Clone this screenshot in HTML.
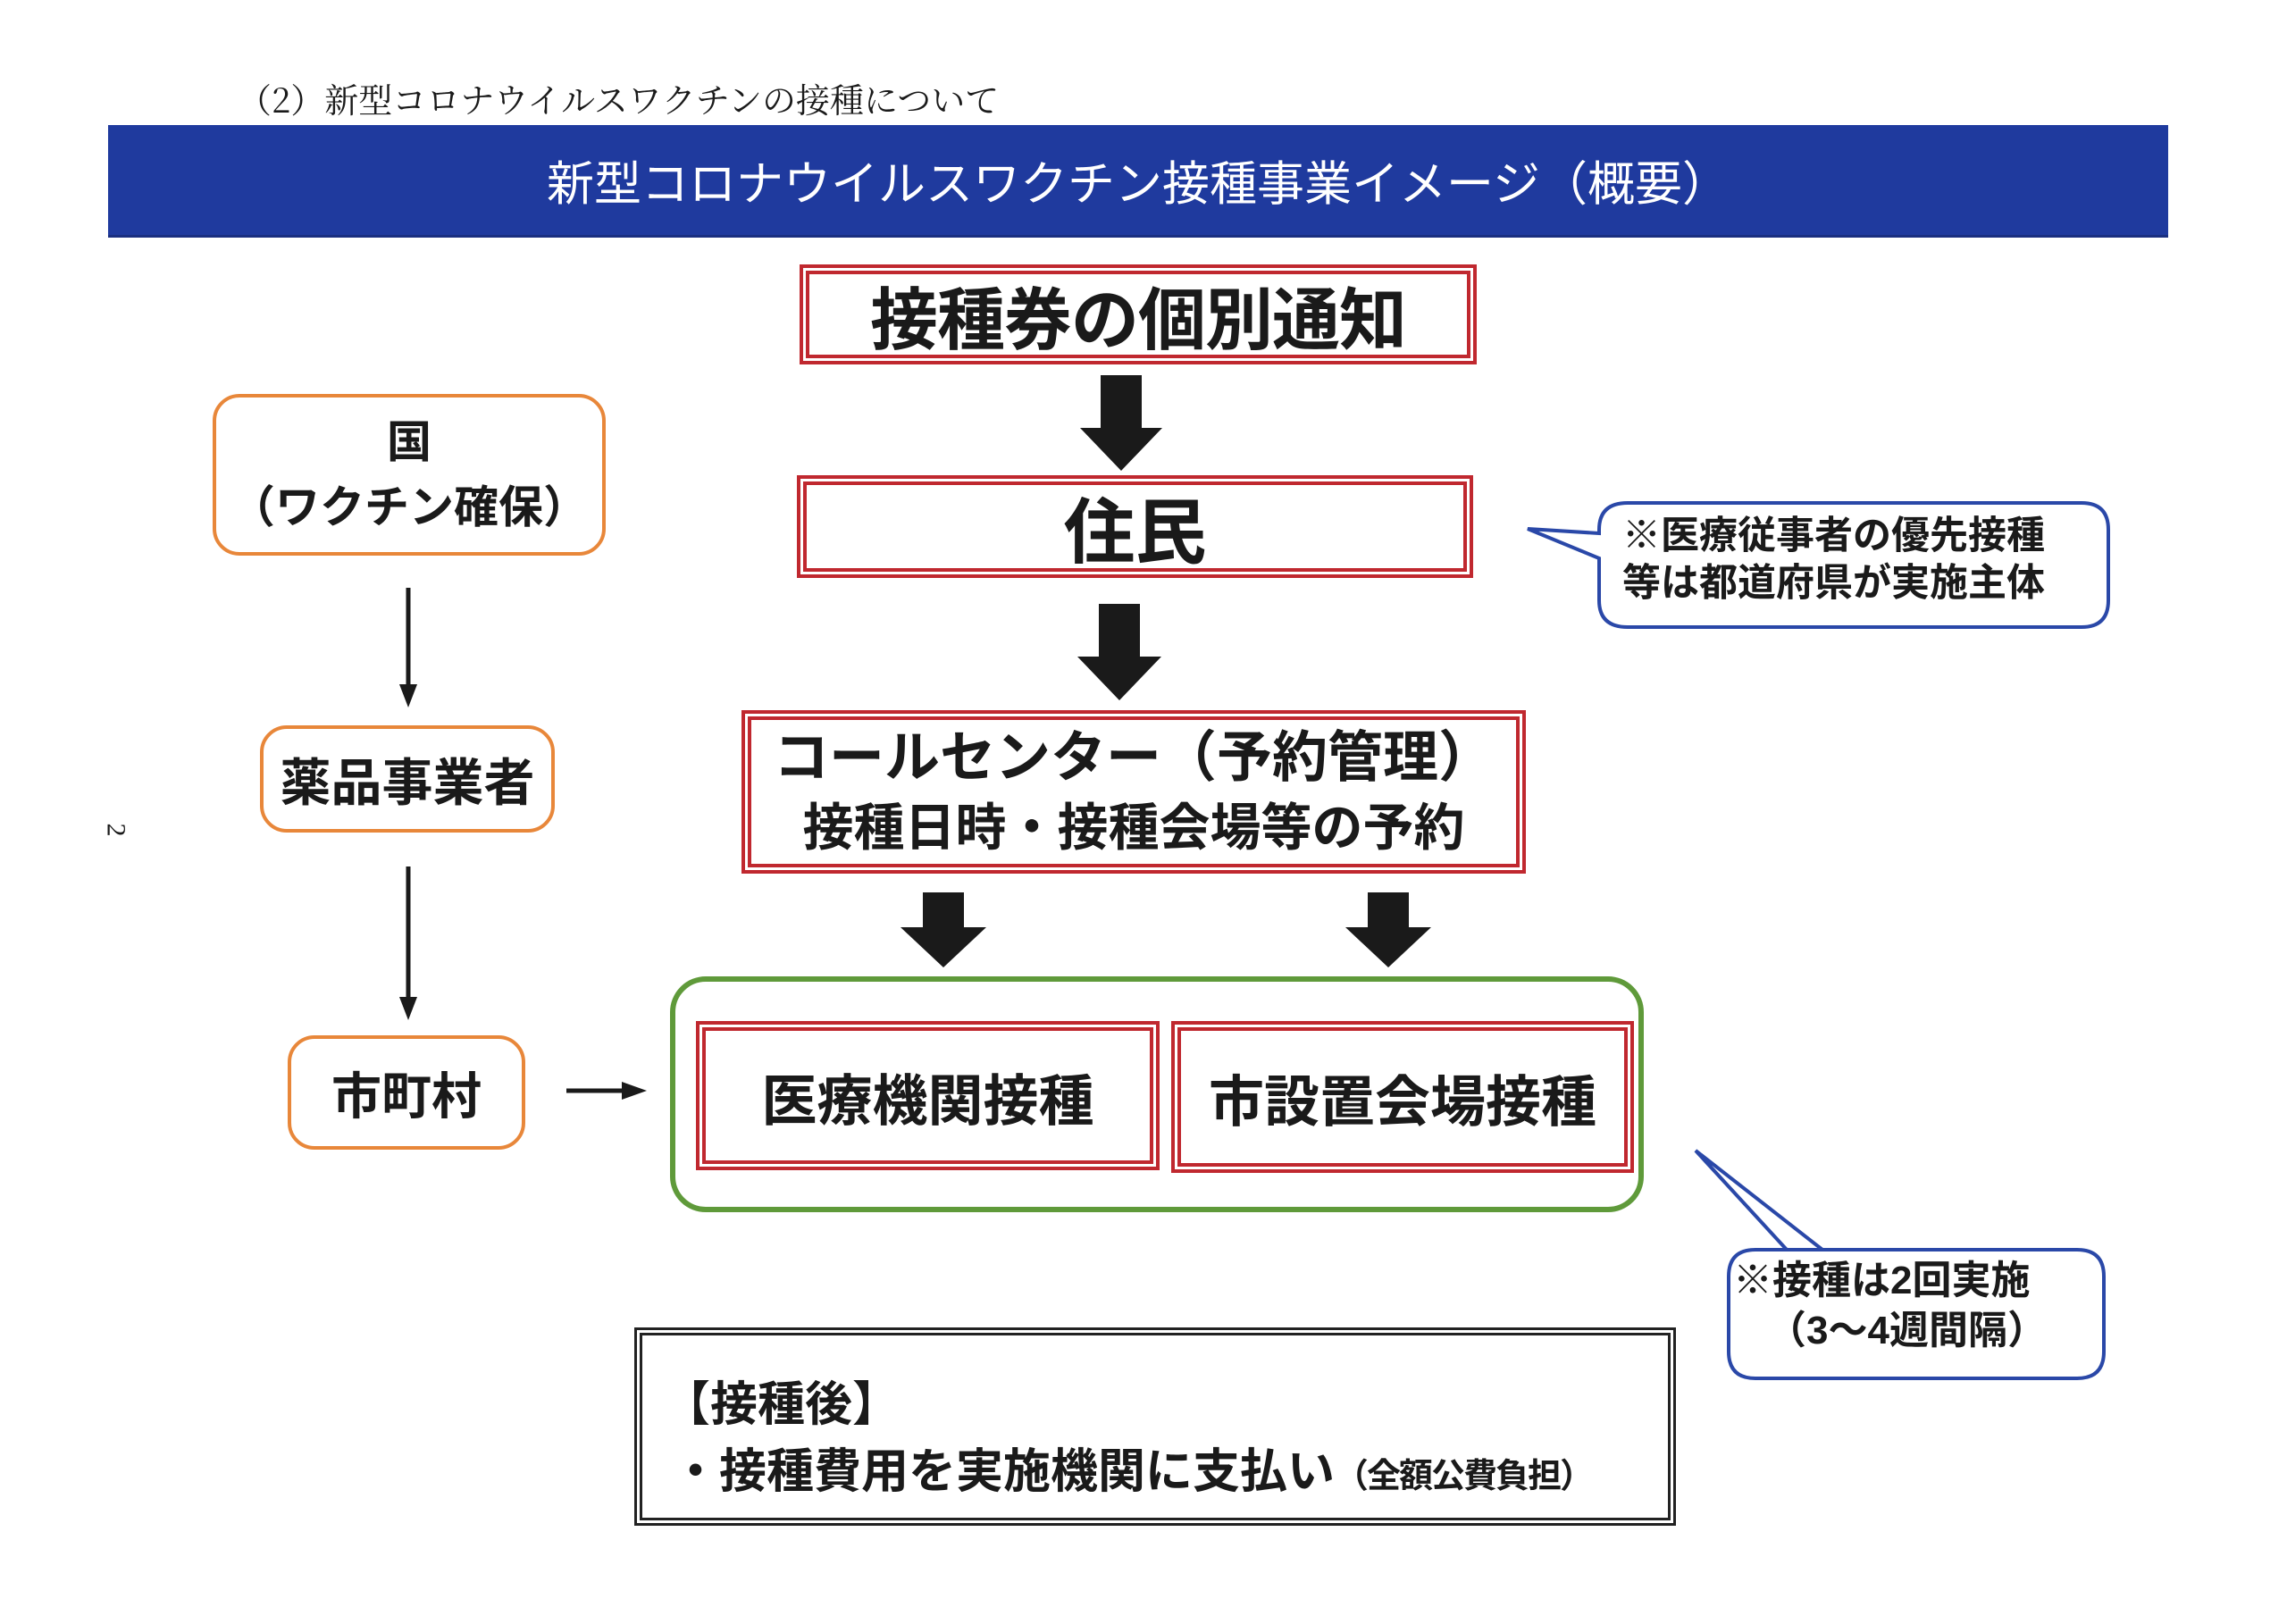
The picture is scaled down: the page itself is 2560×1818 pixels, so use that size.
<!DOCTYPE html>
<html><head><meta charset="utf-8"><style>
body{margin:0;width:2560px;height:1818px;background:#fff;position:relative;overflow:hidden;font-family:"Liberation Sans","Noto Sans CJK JP",sans-serif;color:#1a1a1a}
.a{position:absolute;box-sizing:border-box}
.c{display:flex;align-items:center;justify-content:center;white-space:nowrap;flex-direction:column}
.red{border:11px double #c0282f}
.or{border:4px solid #e8873a;border-radius:30px;background:#fff}
.t{position:absolute;white-space:nowrap}
</style></head><body>
<div class="t" style="left:266px;top:82px;font-size:38px;font-family:'Noto Serif CJK SC',serif">（2）新型コロナウイルスワクチンの接種について</div>
<div class="a c" style="left:121px;top:140px;width:2306px;height:126px;background:#1f3a9e;color:#fff;font-size:53px;border-bottom:3px solid #1a2f80">新型コロナウイルスワクチン接種事業イメージ（概要）</div>

<div class="a c red" style="left:895px;top:296px;width:758px;height:112px;font-size:76px;font-weight:bold;letter-spacing:-1px">接種券の個別通知</div>
<div class="a c red" style="left:892px;top:532px;width:757px;height:115px;font-size:80px;font-weight:bold">住民</div>
<div class="a c red" style="left:830px;top:795px;width:878px;height:183px;font-weight:bold;line-height:1.3"><div style="font-size:62px">コールセンター（予約管理）</div><div style="font-size:57px">接種日時・接種会場等の予約</div></div>

<svg class="a" style="left:0;top:0" width="2560" height="1818">
<g fill="#1a1a1a">
<polygon points="1232,420 1278,420 1278,479 1301,479 1255,527 1209,479 1232,479"/>
<polygon points="1230,676 1276,676 1276,735 1300,735 1253,784 1206,735 1230,735"/>
<polygon points="1033,999 1079,999 1079,1038 1104,1038 1056,1083 1008,1038 1033,1038"/>
<polygon points="1531,999 1577,999 1577,1038 1602,1038 1554,1083 1506,1038 1531,1038"/>
</g>
<g stroke="#1a1a1a" stroke-width="5" fill="#1a1a1a">
<line x1="457" y1="658" x2="457" y2="770"/><polygon points="447,766 467,766 457,792" stroke="none"/>
<line x1="457" y1="970" x2="457" y2="1120"/><polygon points="447,1116 467,1116 457,1142" stroke="none"/>
<line x1="634" y1="1221" x2="700" y2="1221"/><polygon points="696,1211 696,1231 724,1221" stroke="none"/>
</g>
<path d="M1822,563 H2330 Q2360,563 2360,593 V672 Q2360,702 2330,702 H1822 Q1790,702 1790,672 V625 L1710,592 L1790,597 V593 Q1790,563 1822,563 Z" fill="#fff" stroke="#2a48a8" stroke-width="4"/>
<path d="M1965,1399 H2325 Q2355,1399 2355,1429 V1513 Q2355,1543 2325,1543 H1965 Q1935,1543 1935,1513 V1429 Q1935,1399 1965,1399 H2000 L1898,1288 L2040,1399" fill="#fff" stroke="#2a48a8" stroke-width="4"/>
</svg>

<div class="a" style="left:750px;top:1093px;width:1090px;height:264px;border:6px solid #5f9a3a;border-radius:40px"></div>
<div class="a c red" style="left:779px;top:1143px;width:519px;height:167px;font-size:62px;font-weight:bold">医療機関接種</div>
<div class="a c red" style="left:1311px;top:1143px;width:518px;height:170px;font-size:62px;font-weight:bold">市設置会場接種</div>

<div class="a c or" style="left:238px;top:441px;width:440px;height:181px;font-size:50px;font-weight:bold;line-height:1.45"><div>国</div><div>（ワクチン確保）</div></div>
<div class="a c or" style="left:291px;top:812px;width:330px;height:120px;font-size:57px;font-weight:bold">薬品事業者</div>
<div class="a c or" style="left:322px;top:1159px;width:266px;height:128px;font-size:56px;font-weight:bold">市町村</div>

<div class="t" style="left:1816px;top:574px;font-size:43px;line-height:53px;font-weight:bold">※医療従事者の優先接種<br>等は都道府県が実施主体</div>
<div class="t" style="left:1940px;top:1406px;font-size:44px;line-height:56px;font-weight:bold">※接種は2回実施<br><span style="padding-left:38px">（3〜4週間隔）</span></div>

<div class="a" style="left:710px;top:1486px;width:1166px;height:222px;border:9px double #222"></div>
<div class="t" style="left:742px;top:1530px;font-size:53px;font-weight:bold">【接種後】</div>
<div class="t" style="left:752px;top:1605px;font-size:53px;font-weight:bold">・接種費用を実施機関に支払い<span style="font-size:38px;letter-spacing:-2px">（全額公費負担）</span></div>

<div class="t" style="left:122px;top:912px;font-size:30px;transform:rotate(90deg);font-family:'Liberation Serif',serif">2</div>
</body></html>
